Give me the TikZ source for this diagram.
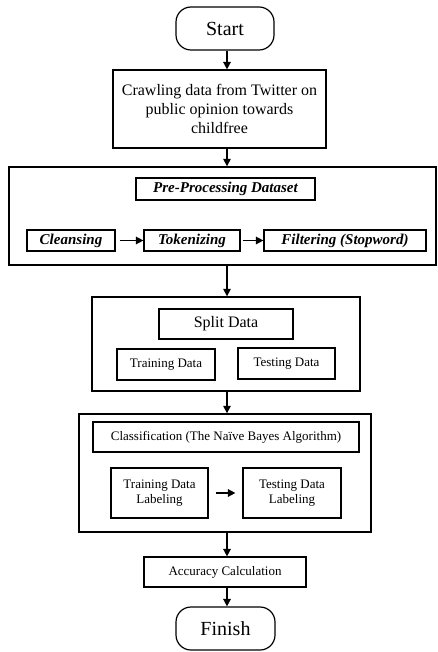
\documentclass[tikz,border=0pt]{standalone}
\usepackage{fontspec}
\setmainfont{Liberation Serif}
\usetikzlibrary{arrows.meta}
\tikzset{
  box/.style={draw=black, line width=1.2pt, rectangle, inner sep=0pt, align=center},
  outer/.style={draw=black, line width=1.4pt, rectangle, inner sep=0pt},
  term/.style={draw=black, line width=1.2pt, rectangle, rounded corners=15pt, inner sep=0pt, font=\fontsize{20}{22}\selectfont},
  flow/.style={line width=1.5pt, -{Triangle[length=7.5pt,width=7.5pt]}},
  it/.style={font=\fontsize{15}{17}\selectfont\bfseries\itshape},
  sm/.style={font=\fontsize{13}{15}\selectfont},
}
\begin{document}
\begin{tikzpicture}[x=1pt,y=-1pt]
\useasboundingbox (0,0) rectangle (437,652);
\fill[white] (0,0) rectangle (437,652);
\coordinate (col) at (227,0);
% terminals and main boxes
\node[term, minimum width=98pt, minimum height=43pt] (start) at (225,28.5) {Start};
\node[box, minimum width=213pt, minimum height=78pt, font=\fontsize{16}{19}\selectfont] (crawl) at (219.5,109) {Crawling data from Twitter on\\public opinion towards\\childfree};
% pre-processing
\node[outer, minimum width=427pt, minimum height=98pt] (pre) at (222.5,216) {};
\node[box, it, minimum width=179pt, minimum height=22pt] (pretitle) at (225.5,189) {Pre-Processing Dataset};
\node[box, it, minimum width=88pt, minimum height=21pt] (clean) at (71,240.5) {Cleansing};
\node[box, it, minimum width=96pt, minimum height=21pt] (token) at (192,240.5) {Tokenizing};
\node[box, it, minimum width=162pt, minimum height=21pt] (filter) at (345,240.5) {Filtering (Stopword)};
% split
\node[outer, minimum width=268pt, minimum height=94pt] (split) at (226,344) {};
\node[box, minimum width=134pt, minimum height=30pt, font=\fontsize{16}{19}\selectfont] (splittitle) at (226,324) {Split Data};
\node[box, sm, minimum width=98pt, minimum height=31pt] (train) at (166,364.5) {Training Data};
\node[box, sm, minimum width=97pt, minimum height=31pt] (test) at (286.5,363.5) {Testing Data};
% classification
\node[outer, minimum width=292pt, minimum height=118pt] (cls) at (225,473) {};
\node[box, sm, minimum width=266pt, minimum height=30pt] (clstitle) at (226,437) {Classification (The Naïve Bayes Algorithm)};
\node[box, sm, minimum width=97pt, minimum height=50pt] (tdl) at (159.5,493) {Training Data\\Labeling};
\node[box, sm, minimum width=98pt, minimum height=50pt] (tsdl) at (292,493) {Testing Data\\Labeling};
% accuracy and finish
\node[box, sm, minimum width=162pt, minimum height=30pt] (acc) at (225,572) {Accuracy Calculation};
\node[term, minimum width=99pt, minimum height=43pt] (finish) at (225.5,628.5) {Finish};
% vertical arrows
\draw[flow] (start.south -| col) -- (crawl.north -| col);
\draw[flow] (crawl.south -| col) -- (pre.north -| col);
\draw[flow] (pre.south -| col) -- (split.north -| col);
\draw[flow] (split.south -| col) -- (cls.north -| col);
\draw[flow] (cls.south -| col) -- (acc.north -| col);
\draw[flow] (acc.south -| col) -- (finish.north -| col);
% horizontal arrows
\draw[flow, shorten <=4pt] (clean.east) -- (token.west);
\draw[flow, shorten <=2pt] (token.east) -- (filter.west);
\draw[flow, shorten <=7pt, shorten >=7pt] (tdl.east) -- (tsdl.west);
\end{tikzpicture}
\end{document}
